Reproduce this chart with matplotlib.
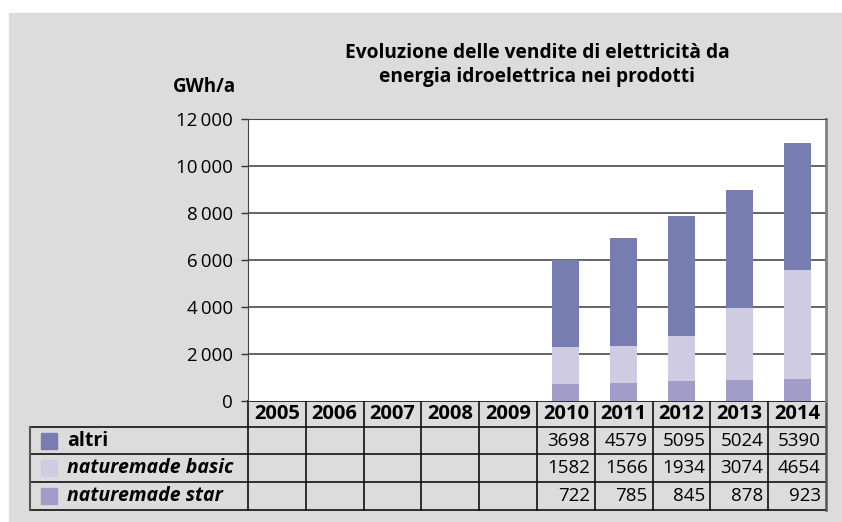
import matplotlib.pyplot as plt
from matplotlib.patches import Rectangle
import numpy as np

plt.rcParams['font.family'] = ['Open Sans', 'DejaVu Sans']

# data (GWh/a), no values before 2010
years = ['2005', '2006', '2007', '2008', '2009', '2010', '2011', '2012', '2013', '2014']
altri = [None, None, None, None, None, 3698, 4579, 5095, 5024, 5390]
nm_basic = [None, None, None, None, None, 1582, 1566, 1934, 3074, 4654]
nm_star = [None, None, None, None, None, 722, 785, 845, 878, 923]

series_names = ['altri', 'naturemade basic', 'naturemade star']
series_styles = ['bold', 'bolditalic', 'bolditalic']
colors = ['#777db0', '#cecbe3', '#a09ec8']
yticks = [0, 2000, 4000, 6000, 8000, 10000, 12000]

W, H = 842, 522
fig = plt.figure(figsize=(W / 100, H / 100), dpi=100)
fig.patch.set_facecolor('white')

# grey panel behind everything
fig.patches.append(Rectangle((9 / W, 0), 1 - 9 / W, (H - 13) / H,
                             transform=fig.transFigure, color='#dcdcdc', zorder=-5))

# plot area in pixels
pl, pr, pt, pb = 248, 826, 119, 401
ax = fig.add_axes([pl / W, 1 - pb / H, (pr - pl) / W, (pb - pt) / H], zorder=2)
ax.set_facecolor('white')

x = np.arange(len(years))
def arr(v):
    return np.array([np.nan if a is None else a for a in v], dtype=float)

s = arr(nm_star)
b = arr(nm_basic)
a = arr(altri)
ax.bar(x, s, width=0.47, color=colors[2], zorder=3)
ax.bar(x, b, width=0.47, bottom=s, color=colors[1], zorder=3)
ax.bar(x, a, width=0.47, bottom=s + b, color=colors[0], zorder=3)

ax.set_xlim(-0.5, len(years) - 0.5)
ax.set_ylim(0, 12000)
ax.set_xticks([])
ax.set_yticks(yticks)
ax.set_yticklabels([f'{v:,}'.replace(',', '\u2009') for v in yticks], fontsize=13.5)
ax.tick_params(axis='y', direction='out', length=5, width=1, color='#333333', pad=6)
for v in yticks[1:-1]:
    ax.axhline(v, color='#3a3a3a', lw=1.1, zorder=1)
ax.spines['left'].set_color('#444444')
ax.spines['top'].set_color('#444444')
ax.spines['right'].set_color('#808080')
ax.spines['right'].set_linewidth(2)
ax.spines['bottom'].set_visible(False)

# title and unit
fig.text(537 / W, 1 - 53 / H, 'Evoluzione delle vendite di elettricità da',
         ha='center', va='center', fontsize=13.8, fontweight='bold')
fig.text(537 / W, 1 - 77 / H, 'energia idroelettrica nei prodotti',
         ha='center', va='center', fontsize=13.8, fontweight='bold')
fig.text(204 / W, 1 - 87 / H, 'GWh/a', ha='center', va='center',
         fontsize=13.5, fontweight='bold')

# data table under the plot, drawn in pixel coordinates
tab = fig.add_axes([0, 0, 1, 1], zorder=1)
tab.set_xlim(0, W)
tab.set_ylim(H, 0)
tab.axis('off')

colw = (pr - pl) / len(years)
rows = [401, 427, 454, 482, 510]
tl = 30
lc = '#111111'
# horizontal lines
tab.plot([pl, pr], [rows[0]] * 2, color=lc, lw=1.2)
for yy in rows[1:]:
    tab.plot([tl, pr], [yy] * 2, color=lc, lw=1.2)
# vertical lines
tab.plot([tl, tl], [rows[1], rows[-1]], color='#555555', lw=1.5)
for i in range(len(years) + 1):
    xx = pl + i * colw
    tab.plot([xx, xx], [rows[0], rows[-1]], color=lc if i < len(years) else '#555555',
             lw=1.2 if i < len(years) else 1.8)

for i, yr in enumerate(years):
    tab.text(pl + (i + 0.5) * colw, (rows[0] + rows[1]) / 2, yr, ha='center',
             va='center', fontsize=14.5, fontweight='bold')

for r, (vals, name, st, c) in enumerate(zip([altri, nm_basic, nm_star],
                                            series_names, series_styles, colors)):
    yc = (rows[r + 1] + rows[r + 2]) / 2
    tab.add_patch(Rectangle((41, yc - 8), 16, 16, color=c))
    tab.text(67, yc, name, ha='left', va='center', fontsize=14, fontweight='bold',
             fontstyle='italic' if st == 'bolditalic' else 'normal')
    for i, v in enumerate(vals):
        if v is not None:
            tab.text(pl + (i + 1) * colw - 5, yc, str(v), ha='right', va='center',
                     fontsize=13.5)

fig.savefig('out.png', dpi=100)
